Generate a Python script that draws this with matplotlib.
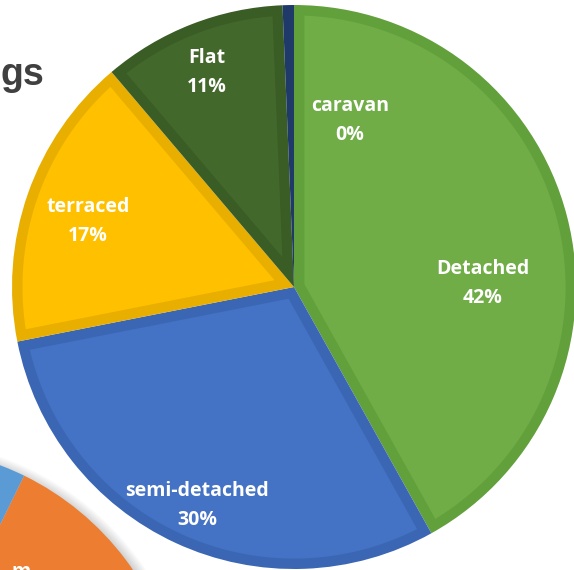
import numpy as np
import matplotlib.pyplot as plt
from matplotlib.patches import Circle, Polygon

# dwelling types, clockwise from 12 o'clock
types = ['Detached', 'semi-detached', 'terraced', 'Flat', 'caravan']
shares = [41.9, 30.0, 16.9, 10.55, 0.65]
pct_labels = ['42%', '30%', '17%', '11%', '0%']
fill_colors = ['#70AD47', '#4472C4', '#FFC000', '#43682B', '#264478']
edge_colors = ['#62A03C', '#3B66B4', '#E8AE00', '#3A5C25', '#1F3A68']
# label anchor (x, y) in pie units
label_pos = [(0.670, 0.014), (-0.344, -0.775), (-0.730, 0.233), (-0.309, 0.761), (0.199, 0.592)]

# neighbouring chart peeking in at the bottom left
other_shares = [30, 60, 10]
other_colors = ['#ED7D31', '#A5A5A5', '#5B9BD5']
other_center = (-1.397, -1.567)

BORDER = 0.037  # inner border width, pie units


def inner_face(theta1, theta2, r, d):
    # region of a wedge lying at least d away from its edges
    half = np.radians(theta2 - theta1) / 2
    r_in = r - d
    apex = d / np.sin(half)
    if apex >= r_in:
        return None
    off = np.degrees(np.arcsin(d / r_in))
    mid = np.radians((theta1 + theta2) / 2)
    t = np.radians(np.linspace(theta1 + off, theta2 - off, 200))
    pts = [(apex * np.cos(mid), apex * np.sin(mid))]
    pts += list(zip(r_in * np.cos(t), r_in * np.sin(t)))
    return pts


fig = plt.figure(figsize=(5.74, 5.70), dpi=100)
ax = fig.add_axes([0, 0, 1, 1])
ax.axis('off')

# soft shadow under the other pie
for i in range(8):
    ax.add_patch(Circle((other_center[0] + 0.012, other_center[1] - 0.012), 1.0 + i * 0.005,
                        color='black', alpha=0.025, lw=0, zorder=0))
ax.pie(other_shares, colors=other_colors, startangle=63.9, counterclock=False,
       radius=1.0, center=other_center, frame=True, wedgeprops=dict(lw=0, zorder=1))
ax.text(0.053, 0.014, 'm', transform=ax.transAxes, ha='right', va='top',
        color='white', fontsize=14, fontweight='bold', family='Open Sans')

wedges, _ = ax.pie(shares, colors=edge_colors, startangle=90, counterclock=False,
                   radius=1.0, frame=True, wedgeprops=dict(lw=0, zorder=2))
for w, fc in zip(wedges, fill_colors):
    pts = inner_face(w.theta1, w.theta2, w.r, BORDER)
    if pts is not None:
        ax.add_patch(Polygon(pts, closed=True, facecolor=fc, lw=0, zorder=2.5))

for name, pct, (x, y) in zip(types, pct_labels, label_pos):
    ax.text(x, y, name + '\n' + pct, ha='center', va='center', color='white',
            fontsize=14, fontweight='bold', family='Open Sans', linespacing=1.6, zorder=3)

ax.set_xlim(-1.0426, 0.9929)
ax.set_ylim(-1.0035, 1.0177)
ax.set_aspect('equal')

# title of the chart, only its tail is in view
fig.text(0.0, 1 - 85 / 570, 'gs', ha='left', va='baseline',
         fontsize=27, fontweight='bold', family='Liberation Sans', color='#404040')

fig.savefig('out.png', dpi=100)
